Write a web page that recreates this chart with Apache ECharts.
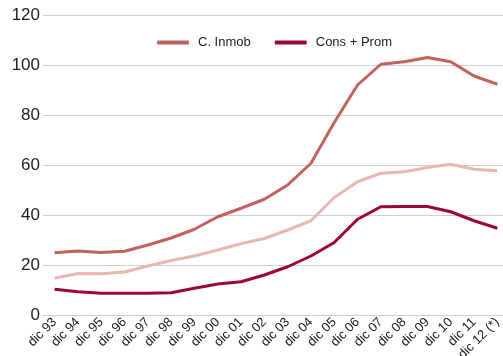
<!DOCTYPE html>
<html>
<head>
<meta charset="utf-8">
<script src="https://cdn.jsdelivr.net/npm/echarts@6/dist/echarts.min.js"></script>
<style>
html, body { margin: 0; padding: 0; background: #fff; }
#chart { width: 503px; height: 356px; }
</style>
</head>
<body>
<div id="chart"></div>
<script>
var years = ["dic 93", "dic 94", "dic 95", "dic 96", "dic 97", "dic 98", "dic 99", "dic 00", "dic 01", "dic 02",
    "dic 03", "dic 04", "dic 05", "dic 06", "dic 07", "dic 08", "dic 09", "dic 10", "dic 11", "dic 12 (*)"];
var inmob = [24.9, 25.6, 25, 25.5, 28, 30.8, 34.3, 39.3, 42.7, 46.3, 52, 60.7, 77, 92, 100.3, 101.3, 103, 101.3, 95.6, 92.3];
var otros = [14.7, 16.6, 16.5, 17.2, 19.6, 21.8, 23.6, 26, 28.5, 30.6, 34, 37.7, 47, 53.3, 56.7, 57.3, 59, 60.3, 58.3, 57.7];
var consProm = [10.3, 9.3, 8.7, 8.7, 8.7, 8.9, 10.7, 12.4, 13.3, 16, 19.3, 23.6, 29, 38.3, 43.3, 43.4, 43.4, 41.3, 37.7, 34.7];
var yTicks = [0, 20, 40, 60, 80, 100, 120];

var chart = echarts.init(document.getElementById("chart"));

function serie(name, data, color){
    return {
        name: name,
        type: "line",
        data: data,
        symbol: "none",
        lineStyle: { width: 3, color: color },
        itemStyle: { color: color }
    };
}

chart.setOption({
    animation: false,
    textStyle: { fontFamily: "Liberation Sans" },
    legend: {
        top: 31,
        left: 152,
        itemWidth: 32,
        itemHeight: 4,
        itemGap: 24,
        icon: "roundRect",
        textStyle: { fontSize: 13, color: "#222", padding: [0, 0, 0, 4] },
        data: ["C. Inmob", "Cons + Prom"]
    },
    grid: { left: 43, right: -6, top: 15, bottom: 41, outerBoundsMode: "none", containLabel: false },
    xAxis: {
        type: "category",
        data: years,
        boundaryGap: true,
        axisLine: { show: false },
        axisTick: { show: false },
        axisLabel: { rotate: 45, fontSize: 13, color: "#222", margin: 5, interval: 0 }
    },
    yAxis: {
        type: "value",
        min: yTicks[0],
        max: yTicks[yTicks.length - 1],
        interval: 20,
        axisLine: { show: false },
        axisTick: { show: false },
        axisLabel: { fontSize: 17, color: "#222", margin: 3 },
        splitLine: { lineStyle: { color: "#cfcfcf", width: 1 } }
    },
    series: [
        serie("C. Inmob", inmob, "#c0625f"),
        serie("Otros", otros, "#e8b7b0"),
        serie("Cons + Prom", consProm, "#9c0632")
    ]
});
</script>
</body>
</html>
